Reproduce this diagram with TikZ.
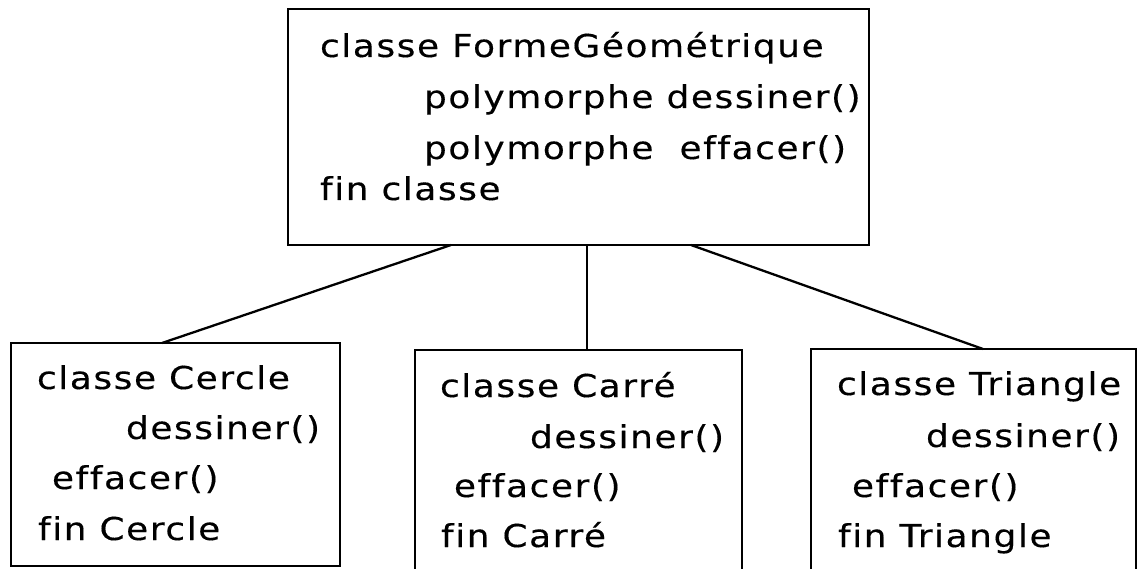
\documentclass[tikz,border=0pt]{standalone}
\usepackage{fontspec}
\newfontfamily\boxfont[FakeStretch=1.14,LetterSpace=5,FakeBold=0.3,Ligatures=NoCommon]{DejaVu Sans}
\begin{document}
\begin{tikzpicture}[x=1pt,y=-1pt,
  classbox/.style={draw=black,line width=2.5pt,fill=none,inner sep=0pt,outer sep=0pt,anchor=north west},
  member/.style={anchor=base west,inner sep=0pt,outer sep=0pt,
    font=\boxfont\fontsize{31.5}{33}\selectfont},
  link/.style={draw=black,line width=2.3pt}]
\useasboundingbox (0,0) rectangle (1140,569);
\clip (0,0) rectangle (1140,569);
\fill[white] (0,0) rectangle (1140,569);

% class boxes
\node[classbox,minimum width=581pt,minimum height=236pt] (forme) at (288,9) {};
\node[classbox,minimum width=329pt,minimum height=223pt] (cercle) at (11,343) {};
\node[classbox,minimum width=327pt,minimum height=240pt] (carre) at (415,350) {};
\node[classbox,minimum width=325pt,minimum height=240pt] (triangle) at (811,349) {};

% inheritance links
\draw[link] ([xshift=163pt]forme.south west) -- ([xshift=151pt]cercle.north west);
\draw[link] ([xshift=299pt]forme.south west) -- ([xshift=172pt]carre.north west);
\draw[link] ([xshift=403pt]forme.south west) -- ([xshift=172pt]triangle.north west);

% base class
\node[member] (f1) at (320,57) {classe FormeGéométrique};
\node[member] (f2) at (424,108) {polymorphe dessiner()};
\node[member] (f3) at (424,159) {polymorphe\ \ effacer()};
\node[member] (f4) at (320,200) {fin classe};

% Cercle
\node[member] (c1) at (37,389) {classe Cercle};
\node[member] (c2) at (126,439) {dessiner()};
\node[member] (c3) at (52,489) {effacer()};
\node[member] (c4) at (38,540) {fin Cercle};

% Carré
\node[member] (k1) at (440,397) {classe Carré};
\node[member] (k2) at (530,448) {dessiner()};
\node[member] (k3) at (454,497) {effacer()};
\node[member] (k4) at (441,547) {fin Carré};

% Triangle
\node[member] (t1) at (837,395) {classe Triangle};
\node[member] (t2) at (926,447) {dessiner()};
\node[member] (t3) at (852,497) {effacer()};
\node[member] (t4) at (838,547) {fin Triangle};
\end{tikzpicture}
\end{document}
